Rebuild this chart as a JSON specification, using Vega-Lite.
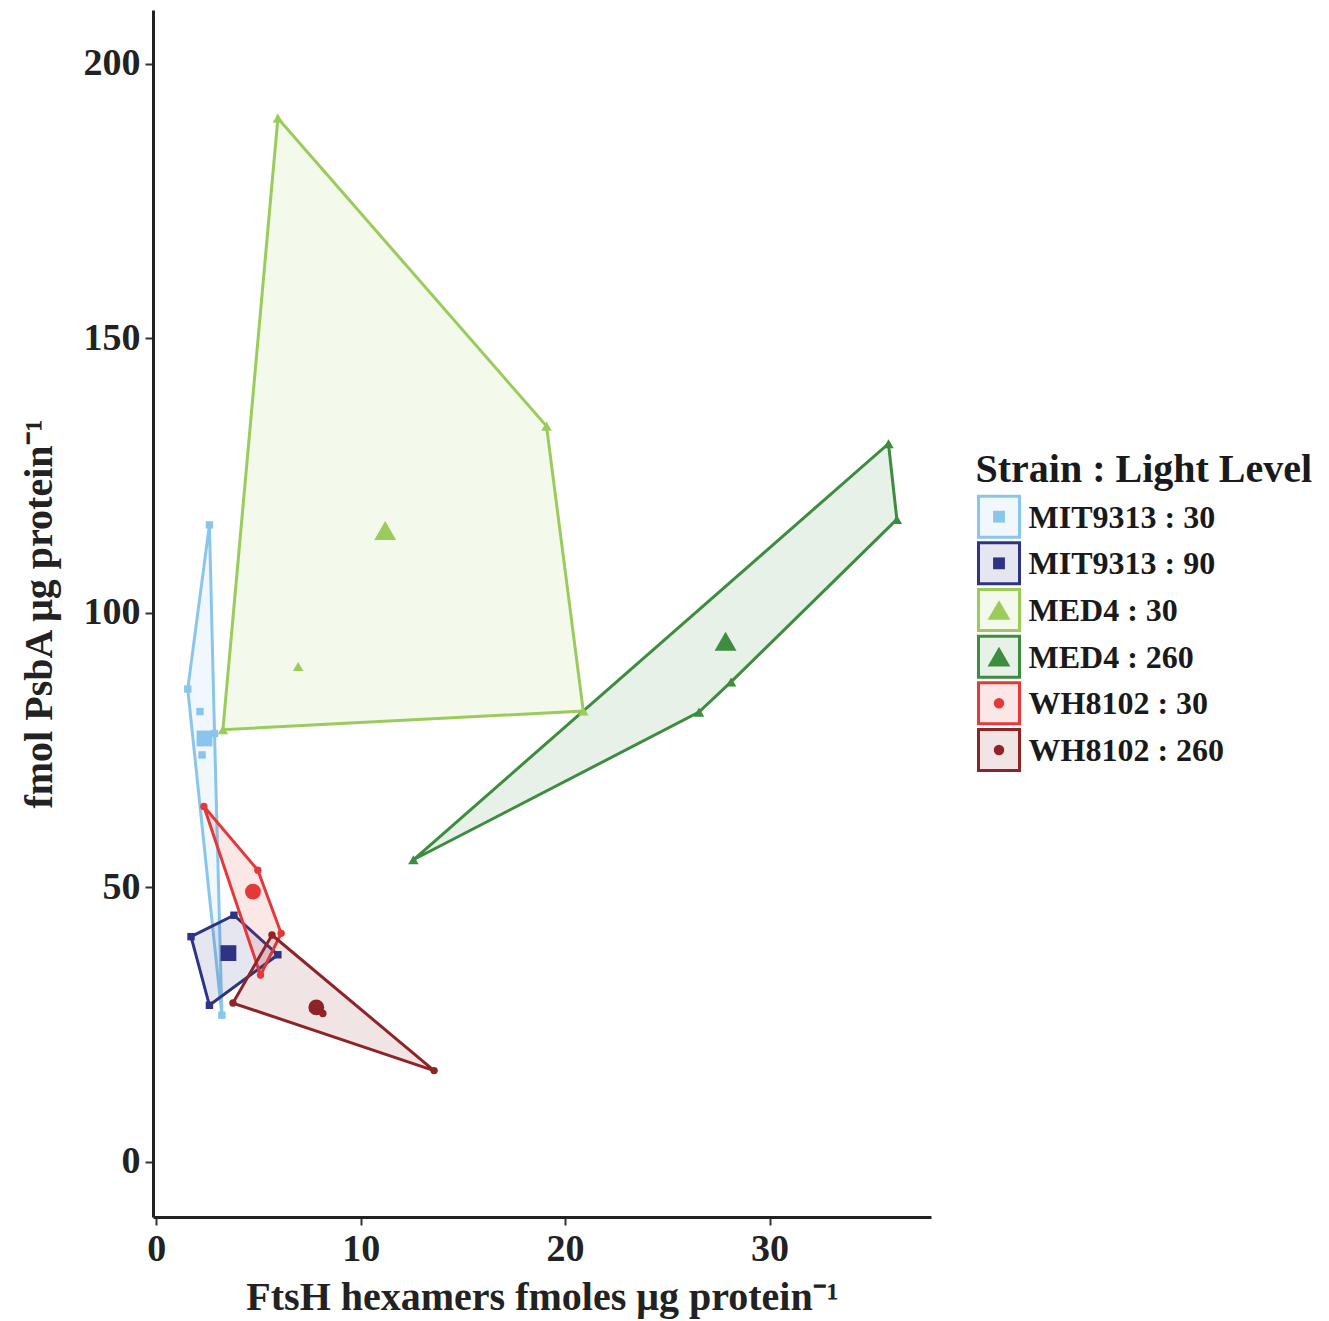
{
  "$schema": "https://vega.github.io/schema/vega-lite/v6.json",
  "background": "white",
  "padding": {"left": 19, "top": 10, "right": 5, "bottom": 5},
  "spacing": 46,
  "center": true,
  "bounds": "flush",
  "config": {
    "view": {"stroke": null},
    "font": "Liberation Serif",
    "axis": {
      "grid": false,
      "domainColor": "#222222",
      "domainWidth": 3,
      "tickColor": "#333333",
      "tickWidth": 2,
      "tickSize": 8,
      "labelFont": "Liberation Serif",
      "labelFontWeight": "bold",
      "labelFontSize": 38,
      "labelColor": "#222222",
      "labelPadding": 5,
      "titleFont": "Liberation Serif",
      "titleFontWeight": "bold",
      "titleFontSize": 40,
      "titleColor": "#222222"
    }
  },
  "datasets": {
    "hull": [
      {"g": "MIT9313 : 30", "i": 1, "x": 2.60, "y": 116.0},
      {"g": "MIT9313 : 30", "i": 2, "x": 2.85, "y": 78.0},
      {"g": "MIT9313 : 30", "i": 3, "x": 3.21, "y": 26.7},
      {"g": "MIT9313 : 30", "i": 4, "x": 1.54, "y": 86.1},
      {"g": "MIT9313 : 90", "i": 1, "x": 1.70, "y": 41.0},
      {"g": "MIT9313 : 90", "i": 2, "x": 3.80, "y": 44.9},
      {"g": "MIT9313 : 90", "i": 3, "x": 5.95, "y": 37.7},
      {"g": "MIT9313 : 90", "i": 4, "x": 2.60, "y": 28.5},
      {"g": "MED4 : 30", "i": 1, "x": 5.95, "y": 190.1},
      {"g": "MED4 : 30", "i": 2, "x": 19.09, "y": 134.0},
      {"g": "MED4 : 30", "i": 3, "x": 20.89, "y": 82.1},
      {"g": "MED4 : 30", "i": 4, "x": 3.26, "y": 78.7},
      {"g": "MED4 : 260", "i": 1, "x": 35.82, "y": 130.8},
      {"g": "MED4 : 260", "i": 2, "x": 36.23, "y": 117.0},
      {"g": "MED4 : 260", "i": 3, "x": 28.12, "y": 87.4},
      {"g": "MED4 : 260", "i": 4, "x": 26.55, "y": 81.9},
      {"g": "MED4 : 260", "i": 5, "x": 12.58, "y": 55.0},
      {"g": "WH8102 : 30", "i": 1, "x": 2.33, "y": 64.7},
      {"g": "WH8102 : 30", "i": 2, "x": 4.97, "y": 53.1},
      {"g": "WH8102 : 30", "i": 3, "x": 6.11, "y": 41.6},
      {"g": "WH8102 : 30", "i": 4, "x": 5.10, "y": 34.0},
      {"g": "WH8102 : 260", "i": 1, "x": 5.66, "y": 41.3},
      {"g": "WH8102 : 260", "i": 2, "x": 13.59, "y": 16.6},
      {"g": "WH8102 : 260", "i": 3, "x": 3.75, "y": 28.9}
    ],
    "pts": [
      {"g": "MIT9313 : 30", "kind": "obs", "x": 2.60, "y": 116.0},
      {"g": "MIT9313 : 30", "kind": "obs", "x": 2.85, "y": 78.0},
      {"g": "MIT9313 : 30", "kind": "obs", "x": 3.21, "y": 26.7},
      {"g": "MIT9313 : 30", "kind": "obs", "x": 1.54, "y": 86.1},
      {"g": "MIT9313 : 30", "kind": "obs", "x": 2.14, "y": 82.0},
      {"g": "MIT9313 : 30", "kind": "obs", "x": 2.24, "y": 74.1},
      {"g": "MIT9313 : 90", "kind": "obs", "x": 1.70, "y": 41.0},
      {"g": "MIT9313 : 90", "kind": "obs", "x": 3.80, "y": 44.9},
      {"g": "MIT9313 : 90", "kind": "obs", "x": 5.95, "y": 37.7},
      {"g": "MIT9313 : 90", "kind": "obs", "x": 2.60, "y": 28.5},
      {"g": "MED4 : 30", "kind": "obs", "x": 5.95, "y": 190.1},
      {"g": "MED4 : 30", "kind": "obs", "x": 19.09, "y": 134.0},
      {"g": "MED4 : 30", "kind": "obs", "x": 20.89, "y": 82.1},
      {"g": "MED4 : 30", "kind": "obs", "x": 3.26, "y": 78.7},
      {"g": "MED4 : 30", "kind": "obs", "x": 6.94, "y": 90.2},
      {"g": "MED4 : 260", "kind": "obs", "x": 35.82, "y": 130.8},
      {"g": "MED4 : 260", "kind": "obs", "x": 36.23, "y": 117.0},
      {"g": "MED4 : 260", "kind": "obs", "x": 28.12, "y": 87.4},
      {"g": "MED4 : 260", "kind": "obs", "x": 26.55, "y": 81.9},
      {"g": "MED4 : 260", "kind": "obs", "x": 12.58, "y": 55.0},
      {"g": "WH8102 : 30", "kind": "obs", "x": 2.33, "y": 64.7},
      {"g": "WH8102 : 30", "kind": "obs", "x": 4.97, "y": 53.1},
      {"g": "WH8102 : 30", "kind": "obs", "x": 6.11, "y": 41.6},
      {"g": "WH8102 : 30", "kind": "obs", "x": 5.10, "y": 34.0},
      {"g": "WH8102 : 260", "kind": "obs", "x": 5.66, "y": 41.3},
      {"g": "WH8102 : 260", "kind": "obs", "x": 13.59, "y": 16.6},
      {"g": "WH8102 : 260", "kind": "obs", "x": 3.75, "y": 28.9},
      {"g": "WH8102 : 260", "kind": "obs", "x": 8.15, "y": 27.0},
      {"g": "MIT9313 : 30", "kind": "mean", "x": 2.36, "y": 77.1},
      {"g": "MIT9313 : 90", "kind": "mean", "x": 3.53, "y": 38.0},
      {"g": "MED4 : 30", "kind": "mean", "x": 11.20, "y": 115.0},
      {"g": "MED4 : 260", "kind": "mean", "x": 27.85, "y": 94.8},
      {"g": "WH8102 : 30", "kind": "mean", "x": 4.73, "y": 49.2},
      {"g": "WH8102 : 260", "kind": "mean", "x": 7.83, "y": 28.1}
    ],
    "leg": [
      {"g": "MIT9313 : 30"},
      {"g": "MIT9313 : 90"},
      {"g": "MED4 : 30"},
      {"g": "MED4 : 260"},
      {"g": "WH8102 : 30"},
      {"g": "WH8102 : 260"}
    ],
    "legtitle": [
      {"g": "Strain : Light Level"}
    ]
  },
  "hconcat": [
    {
      "width": 778,
      "height": 1207,
      "encoding": {
        "x": {
          "field": "x", "type": "quantitative",
          "scale": {"domain": [-0.16, 37.9], "nice": false, "zero": false},
          "axis": {"values": [0, 10, 20, 30], "title": "FtsH hexamers fmoles μg protein⁻¹", "titlePadding": 9}
        },
        "y": {
          "field": "y", "type": "quantitative",
          "scale": {"domain": [-10.07, 209.8], "nice": false, "zero": false},
          "axis": {"values": [0, 50, 100, 150, 200], "title": "fmol PsbA μg protein⁻¹", "titlePadding": 24}
        }
      },
      "layer": [
        {
          "data": {"name": "hull"},
          "mark": {"type": "line", "interpolate": "linear-closed", "strokeWidth": 3, "fillOpacity": 0.12, "strokeJoin": "miter"},
          "encoding": {
            "order": {"field": "i", "type": "quantitative"},
            "stroke": {"field": "g", "type": "nominal", "legend": null,
              "scale": {"domain": ["MIT9313 : 30", "MIT9313 : 90", "MED4 : 30", "MED4 : 260", "WH8102 : 30", "WH8102 : 260"],
                        "range": ["#8AC6EC", "#2E3383", "#9BCB5B", "#3D8C3F", "#E5383B", "#8E2428"]}},
            "fill": {"field": "g", "type": "nominal", "legend": null,
              "scale": {"domain": ["MIT9313 : 30", "MIT9313 : 90", "MED4 : 30", "MED4 : 260", "WH8102 : 30", "WH8102 : 260"],
                        "range": ["#8AC6EC", "#2E3383", "#9BCB5B", "#3D8C3F", "#E5383B", "#8E2428"]}}
          }
        },
        {
          "data": {"name": "pts"},
          "transform": [{"filter": {"and": [{"field": "kind", "equal": "obs"}, {"not": {"field": "g", "oneOf": ["MED4 : 30", "MED4 : 260"]}}]}}],
          "mark": {"type": "point", "filled": true, "size": 55, "opacity": 1, "strokeWidth": 0},
          "encoding": {
            "shape": {"field": "g", "type": "nominal", "legend": null,
              "scale": {"domain": ["MIT9313 : 30", "MIT9313 : 90", "MED4 : 30", "MED4 : 260", "WH8102 : 30", "WH8102 : 260"],
                        "range": ["square", "square", "triangle-up", "triangle-up", "circle", "circle"]}},
            "fill": {"field": "g", "type": "nominal", "legend": null}
          }
        },
        {
          "data": {"name": "pts"},
          "transform": [{"filter": {"and": [{"field": "kind", "equal": "obs"}, {"field": "g", "oneOf": ["MED4 : 30", "MED4 : 260"]}]}}],
          "mark": {"type": "point", "filled": true, "size": 110, "opacity": 1, "strokeWidth": 0},
          "encoding": {
            "shape": {"field": "g", "type": "nominal", "legend": null},
            "fill": {"field": "g", "type": "nominal", "legend": null}
          }
        },
        {
          "data": {"name": "pts"},
          "transform": [{"filter": {"and": [{"field": "kind", "equal": "mean"}, {"not": {"field": "g", "oneOf": ["MED4 : 30", "MED4 : 260"]}}]}}],
          "mark": {"type": "point", "filled": true, "size": 250, "opacity": 1, "strokeWidth": 0},
          "encoding": {
            "shape": {"field": "g", "type": "nominal", "legend": null},
            "fill": {"field": "g", "type": "nominal", "legend": null}
          }
        },
        {
          "data": {"name": "pts"},
          "transform": [{"filter": {"and": [{"field": "kind", "equal": "mean"}, {"field": "g", "oneOf": ["MED4 : 30", "MED4 : 260"]}]}}],
          "mark": {"type": "point", "filled": true, "size": 480, "opacity": 1, "strokeWidth": 0},
          "encoding": {
            "shape": {"field": "g", "type": "nominal", "legend": null},
            "fill": {"field": "g", "type": "nominal", "legend": null}
          }
        }
      ]
    },
    {
      "width": 44,
      "height": 373.3,
      "encoding": {
        "y": {
          "field": "g", "type": "nominal", "axis": null,
          "scale": {"type": "point",
                    "domain": ["Strain : Light Level", "MIT9313 : 30", "MIT9313 : 90", "MED4 : 30", "MED4 : 260", "WH8102 : 30", "WH8102 : 260"],
                    "padding": 1, "align": 0.4625}
        }
      },
      "layer": [
        {
          "data": {"name": "leg"},
          "mark": {"type": "square", "size": 1681, "strokeWidth": 3, "fillOpacity": 0.12, "strokeOpacity": 1, "opacity": 1},
          "encoding": {
            "fill": {"field": "g", "type": "nominal", "legend": null},
            "stroke": {"field": "g", "type": "nominal", "legend": null}
          }
        },
        {
          "data": {"name": "leg"},
          "transform": [{"filter": {"field": "g", "oneOf": ["MIT9313 : 30", "MIT9313 : 90"]}}],
          "mark": {"type": "point", "filled": true, "size": 140, "opacity": 1, "strokeWidth": 0},
          "encoding": {
            "shape": {"field": "g", "type": "nominal", "legend": null},
            "fill": {"field": "g", "type": "nominal", "legend": null}
          }
        },
        {
          "data": {"name": "leg"},
          "transform": [{"filter": {"field": "g", "oneOf": ["MED4 : 30", "MED4 : 260"]}}],
          "mark": {"type": "point", "filled": true, "size": 520, "opacity": 1, "strokeWidth": 0},
          "encoding": {
            "shape": {"field": "g", "type": "nominal", "legend": null},
            "fill": {"field": "g", "type": "nominal", "legend": null}
          }
        },
        {
          "data": {"name": "leg"},
          "transform": [{"filter": {"field": "g", "oneOf": ["WH8102 : 30", "WH8102 : 260"]}}],
          "mark": {"type": "point", "filled": true, "size": 110, "opacity": 1, "strokeWidth": 0},
          "encoding": {
            "shape": {"field": "g", "type": "nominal", "legend": null},
            "fill": {"field": "g", "type": "nominal", "legend": null}
          }
        },
        {
          "data": {"name": "leg"},
          "mark": {"type": "text", "align": "left", "baseline": "middle", "dx": 29.5, "dy": 1, "font": "Liberation Serif", "fontWeight": "bold", "fontSize": 32, "color": "#1a1a1a"},
          "encoding": {"text": {"field": "g", "type": "nominal"}}
        },
        {
          "data": {"name": "legtitle"},
          "mark": {"type": "text", "align": "left", "baseline": "middle", "dx": -23.5, "dy": 0, "font": "Liberation Serif", "fontWeight": "bold", "fontSize": 40, "color": "#1a1a1a"},
          "encoding": {"text": {"field": "g", "type": "nominal"}}
        }
      ]
    }
  ]
}
